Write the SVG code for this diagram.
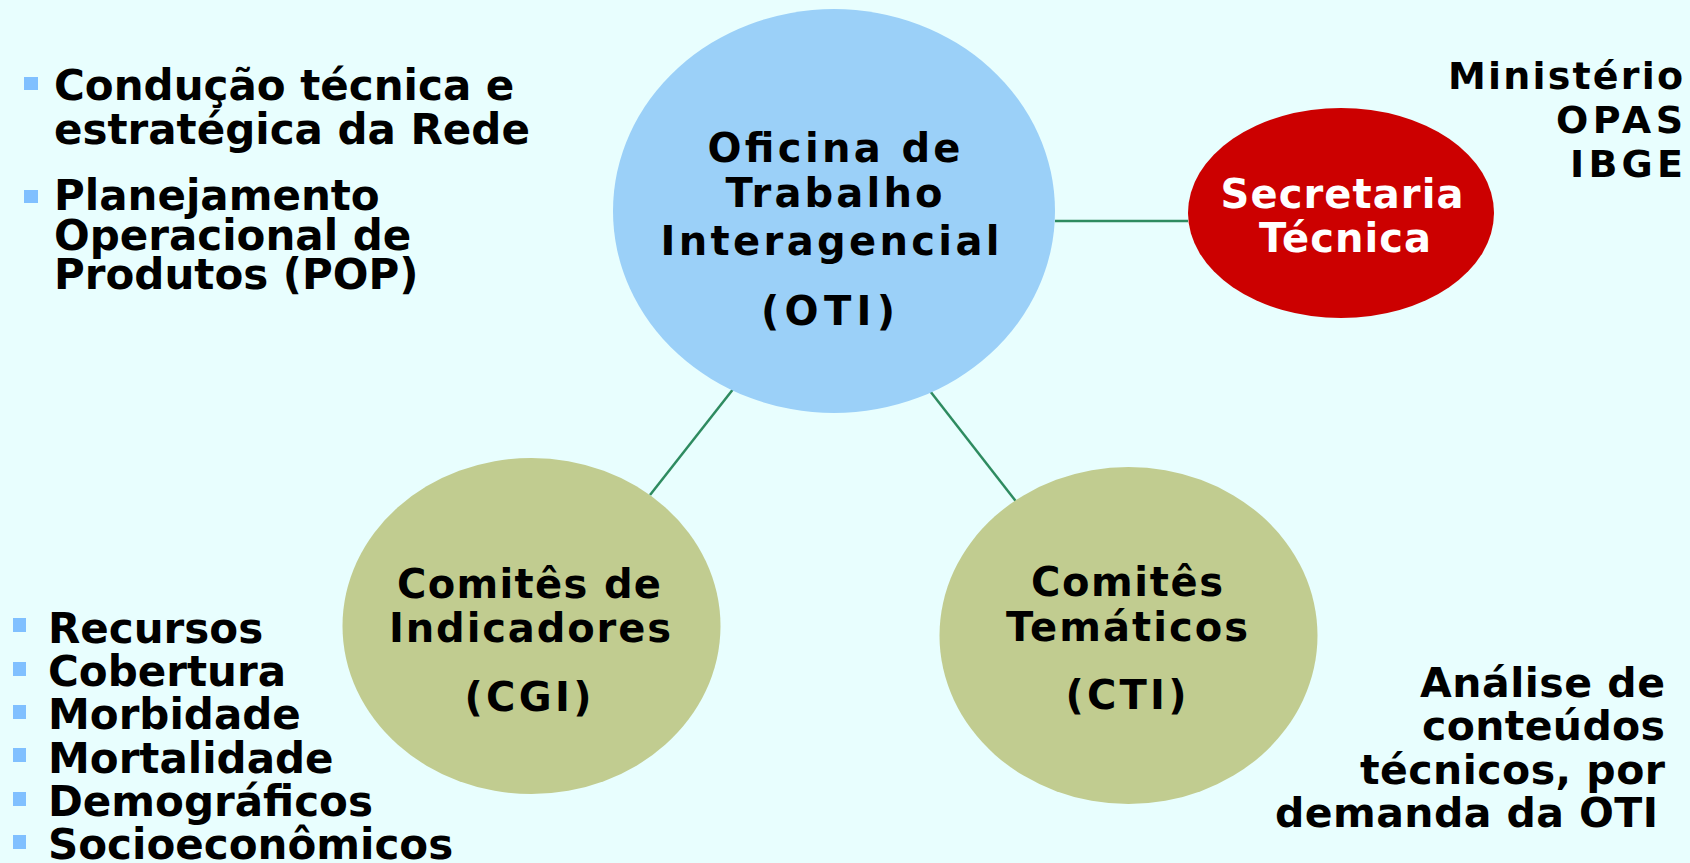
<svg xmlns="http://www.w3.org/2000/svg" width="1690" height="863" viewBox="0 0 1690 863">
<style>
text{font-family:"DejaVu Sans","Liberation Sans",sans-serif;font-weight:bold;fill:#000}
.c{text-anchor:middle;font-size:40px}
.r{text-anchor:end}
.l{font-size:42px}
.bul{fill:#80C0FF}
.conn line{stroke:#2E8B60;stroke-width:2.5}
</style>
<rect width="1690" height="863" fill="#E8FEFE"/>
<g class="conn" id="connectors">
<line x1="1055" y1="221" x2="1188" y2="221"/>
<line x1="734" y1="388" x2="650" y2="495"/>
<line x1="930" y1="391" x2="1018" y2="504"/>
</g>
<g id="oti">
<ellipse cx="834" cy="211" rx="221" ry="202" fill="#9BD0F8"/>
<text class="c" x="834" y="162" textLength="253">Oficina de</text>
<text class="c" x="834" y="207" textLength="217">Trabalho</text>
<text class="c" x="830" y="255" textLength="339">Interagencial</text>
<text class="c" x="828" y="325" textLength="134">(OTI)</text>
</g>
<g id="secretaria">
<ellipse cx="1341" cy="213" rx="153" ry="105" fill="#CC0000"/>
<text class="c" x="1342" y="208" textLength="243" style="fill:#fff">Secretaria</text>
<text class="c" x="1345" y="252" textLength="172" style="fill:#fff">Técnica</text>
</g>
<g id="cgi">
<ellipse cx="531.5" cy="626" rx="189" ry="168" fill="#C1CC90"/>
<text class="c" x="529" y="598" textLength="264">Comitês de</text>
<text class="c" x="530" y="642" textLength="282">Indicadores</text>
<text class="c" x="528" y="711" textLength="127">(CGI)</text>
</g>
<g id="cti">
<ellipse cx="1128.5" cy="635.5" rx="189" ry="168.5" fill="#C1CC90"/>
<text class="c" x="1127" y="596" textLength="192">Comitês</text>
<text class="c" x="1127" y="641" textLength="242">Temáticos</text>
<text class="c" x="1126" y="709" textLength="121">(CTI)</text>
</g>
<g id="agencies">
<text class="r" x="1683" y="89" font-size="38" textLength="235">Ministério</text>
<text class="r" x="1683" y="133" font-size="38" textLength="127">OPAS</text>
<text class="r" x="1683" y="177" font-size="38" textLength="113">IBGE</text>
</g>
<g id="oti-notes">
<rect class="bul" x="24" y="77" width="14" height="13"/>
<rect class="bul" x="24" y="190" width="14" height="13"/>
<text class="l" x="54" y="100">Condução técnica e</text>
<text class="l" x="54" y="144">estratégica da Rede</text>
<text class="l" x="54" y="210">Planejamento</text>
<text class="l" x="54" y="250">Operacional de</text>
<text class="l" x="54" y="289">Produtos (POP)</text>
</g>
<g id="cgi-notes">
<rect class="bul" x="13" y="618" width="13" height="14"/>
<rect class="bul" x="13" y="662" width="13" height="14"/>
<rect class="bul" x="13" y="705" width="13" height="14"/>
<rect class="bul" x="13" y="748" width="13" height="14"/>
<rect class="bul" x="13" y="792" width="13" height="14"/>
<rect class="bul" x="13" y="835" width="13" height="14"/>
<text class="l" x="48" y="643">Recursos</text>
<text class="l" x="48" y="686">Cobertura</text>
<text class="l" x="48" y="729">Morbidade</text>
<text class="l" x="48" y="773">Mortalidade</text>
<text class="l" x="48" y="816">Demográficos</text>
<text class="l" x="48" y="859">Socioeconômicos</text>
</g>
<g id="cti-notes">
<text class="r" x="1665" y="697" font-size="41" textLength="245">Análise de</text>
<text class="r" x="1665" y="740" font-size="41" textLength="243">conteúdos</text>
<text class="r" x="1665" y="784" font-size="41" textLength="305">técnicos, por</text>
<text class="r" x="1658" y="827" font-size="41" textLength="383">demanda da OTI</text>
</g>
</svg>
